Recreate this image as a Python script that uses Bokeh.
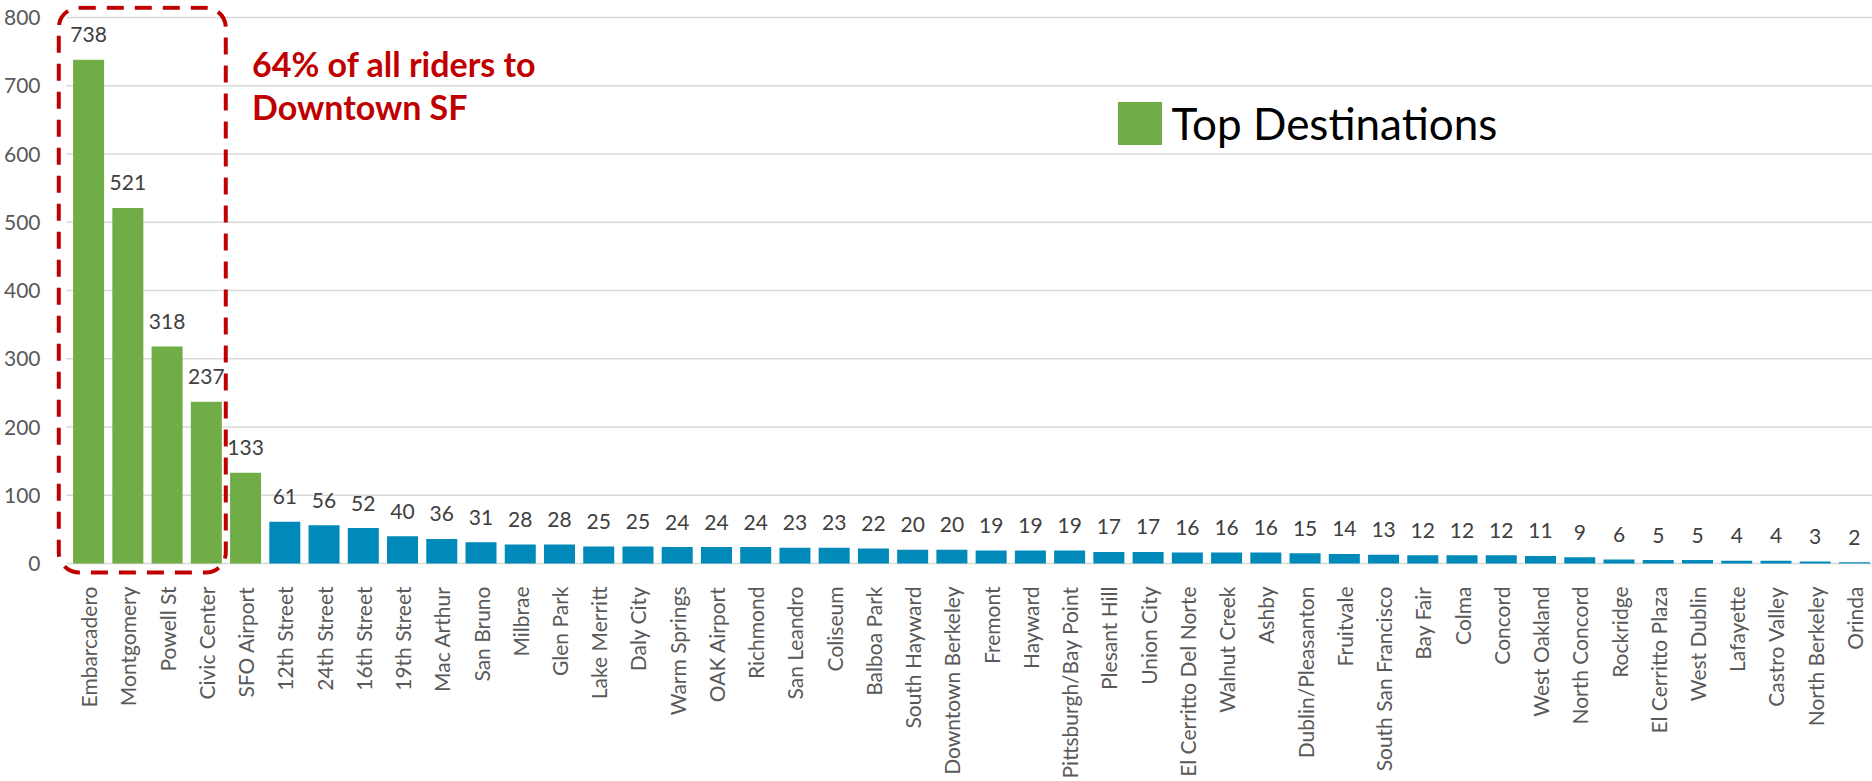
import math
from bokeh.plotting import figure
from bokeh.models import (ColumnDataSource, FixedTicker, BoxAnnotation, Label,
                          Legend, LegendItem)
from bokeh.embed import file_html
from bokeh.resources import INLINE
from bokeh.core.properties import value

stations = ["Embarcadero", "Montgomery", "Powell St", "Civic Center", "SFO Airport",
            "12th Street", "24th Street", "16th Street", "19th Street", "Mac Arthur",
            "San Bruno", "Milbrae", "Glen Park", "Lake Merritt", "Daly City",
            "Warm Springs", "OAK Airport", "Richmond", "San Leandro", "Coliseum",
            "Balboa Park", "South Hayward", "Downtown Berkeley", "Fremont", "Hayward",
            "Pittsburgh/Bay Point", "Plesant Hill", "Union City", "El Cerritto Del Norte",
            "Walnut Creek", "Ashby", "Dublin/Pleasanton", "Fruitvale", "South San Francisco",
            "Bay Fair", "Colma", "Concord", "West Oakland", "North Concord", "Rockridge",
            "El Cerritto Plaza", "West Dublin", "Lafayette", "Castro Valley",
            "North Berkeley", "Orinda"]
riders = [738, 521, 318, 237, 133, 61, 56, 52, 40, 36, 31, 28, 28, 25, 25, 24, 24, 24,
          23, 23, 22, 20, 20, 19, 19, 19, 17, 17, 16, 16, 16, 15, 14, 13, 12, 12, 12,
          11, 9, 6, 5, 5, 4, 4, 3, 2]
y_ticks = [0, 100, 200, 300, 400, 500, 600, 700, 800]
n_top = 5
legend_text = "Top Destinations"
note_lines = ["64% of all riders to", "Downtown SF"]

TOP_COLOR = "#70AD47"
OTHER_COLOR = "#0089B9"
RED = "#C00000"
FONT = "Lato"

xs = list(range(len(stations)))
colors = [TOP_COLOR if i < n_top else OTHER_COLOR for i in xs]
src = ColumnDataSource(dict(x=xs, riders=riders, color=colors,
                            label=[str(v) for v in riders]))

x_start, x_end = -0.971, 45.46
p = figure(width=1872, height=781, x_range=(x_start, x_end),
           y_range=(-21.98, 817.6), output_backend="svg", toolbar_location=None,
           min_border_left=46, min_border_right=0, min_border_top=5, min_border_bottom=203)
p.outline_line_color = None
p.grid.visible = False
p.background_fill_color = "white"

# horizontal gridlines
p.segment(x0=-0.564, x1=x_end, y0=y_ticks, y1=y_ticks, line_color="#D9D9D9", line_width=1.5)

bars = p.vbar(x="x", top="riders", width=0.79, source=src, fill_color="color",
              line_color=None)

p.text(x="x", y="riders", text="label", source=src, text_align="center",
       text_baseline="middle", y_offset=-25, text_font=value(FONT),
       text_font_size="21px", text_color="#404040")

# axes
p.xaxis.ticker = FixedTicker(ticks=xs)
p.xaxis.major_label_overrides = {i: s for i, s in zip(xs, stations)}
p.xaxis.major_label_orientation = math.pi / 2
p.xaxis.axis_line_color = None
p.xaxis.major_tick_line_color = None
p.xaxis.minor_tick_line_color = None
p.xaxis.major_label_standoff = 2
p.xaxis.major_label_text_font = FONT
p.xaxis.major_label_text_font_size = "21px"
p.xaxis.major_label_text_color = "#595959"

p.yaxis.ticker = FixedTicker(ticks=y_ticks)
p.yaxis.axis_line_color = None
p.yaxis.major_tick_line_color = None
p.yaxis.minor_tick_line_color = None
p.yaxis.major_label_standoff = 4
p.yaxis.major_label_text_font = FONT
p.yaxis.major_label_text_font_size = "21px"
p.yaxis.major_label_text_color = "#595959"

# dashed rounded highlight box
box = BoxAnnotation(left=-0.76, right=3.496, bottom=-13.2, top=814.2,
                    fill_color=None, fill_alpha=0, line_color=RED, line_alpha=1.0,
                    line_width=4, line_dash="17 11", border_radius=20)
p.add_layout(box)

for txt, yy in zip(note_lines, [732, 669]):
    p.add_layout(Label(x=4.165, y=yy, text=txt, text_font=FONT, text_font_style="bold",
                       text_font_size="34px", text_color=RED, text_baseline="middle"))

legend = Legend(items=[LegendItem(label=legend_text, renderers=[bars], index=0)],
                location=(1061.5, 428.4), glyph_width=55, glyph_height=54,
                label_text_font=FONT, label_text_font_size="44px",
                label_text_color="black", label_standoff=5, padding=0, margin=0,
                border_line_color=None, background_fill_alpha=0)
p.add_layout(legend)

open("out.html", "w").write(file_html(p, INLINE))
